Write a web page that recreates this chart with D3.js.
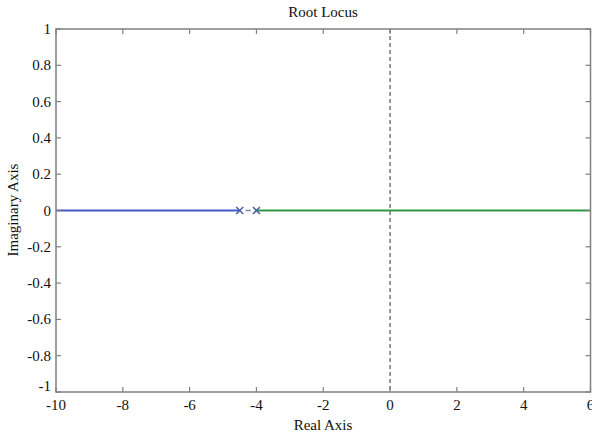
<!DOCTYPE html>
<html><head><meta charset="utf-8">
<script src="https://cdn.jsdelivr.net/npm/d3@7"></script>
<style>body{margin:0;background:#fff}svg{display:block}</style>
</head><body>
<script>
const xTicks = [-10,-8,-6,-4,-2,0,2,4,6];
const yTicks = [-1,-0.8,-0.6,-0.4,-0.2,0,0.2,0.4,0.6,0.8,1];
const poles = [-4.5, -4];
const branch1 = [[-10,0],[-4.5,0]];
const branch2 = [[-4,0],[6,0]];
const gap = [[-4.33,0],[-4.17,0]];

const W=592,H=437;
const svg=d3.select("body").append("svg").attr("width",W).attr("height",H);
const x=d3.scaleLinear().domain([-10,6]).range([56,590.5]);
const y=d3.scaleLinear().domain([-1,1]).range([392,29]);
const font="'Liberation Serif','Times New Roman',serif";
const axCol="#808080";
const fmt=t=>String(t);

const line=d3.line().x(d=>x(d[0])).y(d=>y(d[1]));
svg.append("line").attr("x1",x(0)).attr("x2",x(0)).attr("y1",y(1)).attr("y2",y(-1))
  .attr("stroke","#555").attr("stroke-width",1.2).attr("stroke-dasharray","4,3");
svg.append("path").datum(branch1).attr("d",line).attr("stroke","#4459c4").attr("stroke-width",2).attr("fill","none");
svg.append("path").datum(branch2).attr("d",line).attr("stroke","#2f9a42").attr("stroke-width",2).attr("fill","none");
svg.append("path").datum(gap).attr("d",line).attr("stroke","#7a86a8").attr("stroke-width",1.5).attr("fill","none");
poles.forEach(p=>{
  const cx=x(p),cy=y(0),s=3.5;
  svg.append("path").attr("d",`M${cx-s},${cy-s}L${cx+s},${cy+s}M${cx-s},${cy+s}L${cx+s},${cy-s}`)
    .attr("stroke","#4a62a8").attr("stroke-width",1.6).attr("fill","none");
});

svg.append("rect").attr("x",x(-10)).attr("y",y(1)).attr("width",x(6)-x(-10)).attr("height",y(-1)-y(1))
  .attr("fill","none").attr("stroke",axCol).attr("stroke-width",1.5);
const tl=5;
xTicks.forEach(t=>{
  svg.append("line").attr("x1",x(t)).attr("x2",x(t)).attr("y1",y(-1)).attr("y2",y(-1)-tl).attr("stroke",axCol).attr("stroke-width",1.2);
  svg.append("line").attr("x1",x(t)).attr("x2",x(t)).attr("y1",y(1)).attr("y2",y(1)+tl).attr("stroke",axCol).attr("stroke-width",1.2);
  svg.append("text").attr("x",x(t)).attr("y",y(-1)+18).attr("text-anchor","middle")
    .attr("font-family",font).attr("font-size",15).attr("fill","#111").text(fmt(t));
});
yTicks.forEach(t=>{
  svg.append("line").attr("x1",x(-10)).attr("x2",x(-10)+tl).attr("y1",y(t)).attr("y2",y(t)).attr("stroke",axCol).attr("stroke-width",1.2);
  svg.append("line").attr("x1",x(6)).attr("x2",x(6)-tl).attr("y1",y(t)).attr("y2",y(t)).attr("stroke",axCol).attr("stroke-width",1.2);
  svg.append("text").attr("x",x(-10)-5).attr("y",y(t)+(t===-1? -1 : 5)).attr("text-anchor","end")
    .attr("font-family",font).attr("font-size",15).attr("fill","#111").text(fmt(t));
});
svg.append("text").attr("x",323).attr("y",17).attr("text-anchor","middle").attr("font-family",font).attr("font-size",15).attr("fill","#111").text("Root Locus");
svg.append("text").attr("x",323).attr("y",430).attr("text-anchor","middle").attr("font-family",font).attr("font-size",15).attr("fill","#111").text("Real Axis");
svg.append("text").attr("transform","translate(18,210) rotate(-90)").attr("text-anchor","middle").attr("font-family",font).attr("font-size",15).attr("fill","#111").text("Imaginary Axis");
</script>
</body></html>
